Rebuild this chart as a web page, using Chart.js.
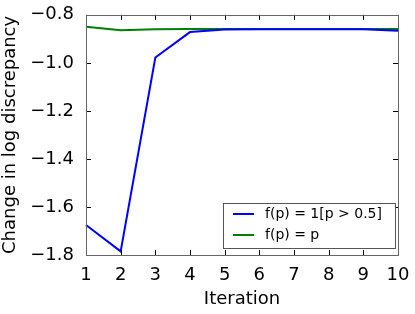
<!DOCTYPE html>
<html>
<head>
<meta charset="utf-8">
<script src="https://cdn.jsdelivr.net/npm/chart.js@4.4.0/dist/chart.umd.min.js"></script>
<style>
  html, body { margin: 0; padding: 0; background: #fff; }
  #wrap { width: 415px; height: 314px; position: relative; }
</style>
</head>
<body>
<div id="wrap"><canvas id="chart"></canvas></div>
<script>
// data
const iterations = [1, 2, 3, 4, 5, 6, 7, 8, 9, 10];
const thresholdSeries = [-1.675, -1.785, -0.978, -0.872, -0.861, -0.86, -0.86, -0.86, -0.86, -0.866];
const identitySeries = [-0.85, -0.864, -0.86, -0.859, -0.859, -0.859, -0.859, -0.859, -0.859, -0.859];
const yTicks = [-1.8, -1.6, -1.4, -1.2, -1.0, -0.8];

const FONT = "'DejaVu Sans', sans-serif";

// matplotlib-classic frame, inward ticks on all sides, and legend box
const framePlugin = {
  id: "frame",
  afterDatasetsDraw(chart) {
    const { ctx, chartArea: a, scales } = chart;
    ctx.save();
    ctx.strokeStyle = "#000";
    ctx.lineWidth = 1;
    const len = 5;
    ctx.beginPath();
    scales.x.ticks.forEach((t, i) => {
      const x = Math.round(scales.x.getPixelForTick(i)) + 0.5;
      ctx.moveTo(x, a.bottom); ctx.lineTo(x, a.bottom - len);
      ctx.moveTo(x, a.top); ctx.lineTo(x, a.top + len);
    });
    scales.y.ticks.forEach((t, i) => {
      const y = Math.round(scales.y.getPixelForTick(i)) + 0.5;
      ctx.moveTo(a.left, y); ctx.lineTo(a.left + len, y);
      ctx.moveTo(a.right, y); ctx.lineTo(a.right - len, y);
    });
    ctx.stroke();
    ctx.strokeStyle = "#666";
    ctx.strokeRect(Math.round(a.left) + 0.5, Math.round(a.top) + 0.5,
      Math.round(a.right - a.left), Math.round(a.bottom - a.top));

    // legend
    const bx = 223.5, by = 203.5, bw = 172, bh = 45;
    ctx.fillStyle = "#fff";
    ctx.fillRect(bx, by, bw, bh);
    ctx.strokeStyle = "#555";
    ctx.strokeRect(bx, by, bw, bh);
    ctx.font = "14px " + FONT;
    ctx.textBaseline = "middle";
    chart.data.datasets.forEach((ds, i) => {
      const y = 214 + i * 21;
      ctx.strokeStyle = ds.borderColor;
      ctx.lineWidth = 2;
      ctx.beginPath();
      ctx.moveTo(233, y); ctx.lineTo(254, y);
      ctx.stroke();
      ctx.fillStyle = "#000";
      ctx.fillText(ds.label, 265, y);
    });
    ctx.restore();
  }
};

new Chart(document.getElementById("chart"), {
  type: "line",
  data: {
    labels: iterations,
    datasets: [
      { label: "f(p) = 1[p > 0.5]", data: thresholdSeries, borderColor: "#0000ff", borderWidth: 2, pointRadius: 0, tension: 0 },
      { label: "f(p) = p", data: identitySeries, borderColor: "#008000", borderWidth: 2, pointRadius: 0, tension: 0 }
    ]
  },
  options: {
    responsive: true,
    maintainAspectRatio: false,
    animation: false,
    layout: { padding: { top: 14, right: 17, left: 0, bottom: 0 } },
    plugins: { legend: { display: false }, tooltip: { enabled: false } },
    scales: {
      x: {
        type: "category",
        offset: false,
        grid: { display: false },
        border: { display: false },
        ticks: { color: "#000", font: { family: FONT, size: 18 }, padding: 2, maxRotation: 0, autoSkip: false },
        title: { display: true, text: "Iteration", color: "#000", font: { family: FONT, size: 18 }, padding: { top: 4, bottom: 4 } },
        afterFit(s) { s.height = 59; }
      },
      y: {
        min: -1.8,
        max: -0.8,
        grid: { display: false },
        border: { display: false },
        afterBuildTicks(s) { s.ticks = yTicks.map(v => ({ value: v })); },
        ticks: {
          color: "#000",
          font: { family: FONT, size: 18 },
          padding: 4,
          callback: v => (v < 0 ? "\u2212" : "") + Math.abs(v).toFixed(1)
        },
        title: { display: true, text: "Change in log discrepancy", color: "#000", font: { family: FONT, size: 18 }, padding: { top: 0, bottom: 4 } },
        afterFit(s) { s.width = 86; }
      }
    }
  },
  plugins: [framePlugin]
});
</script>
</body>
</html>
